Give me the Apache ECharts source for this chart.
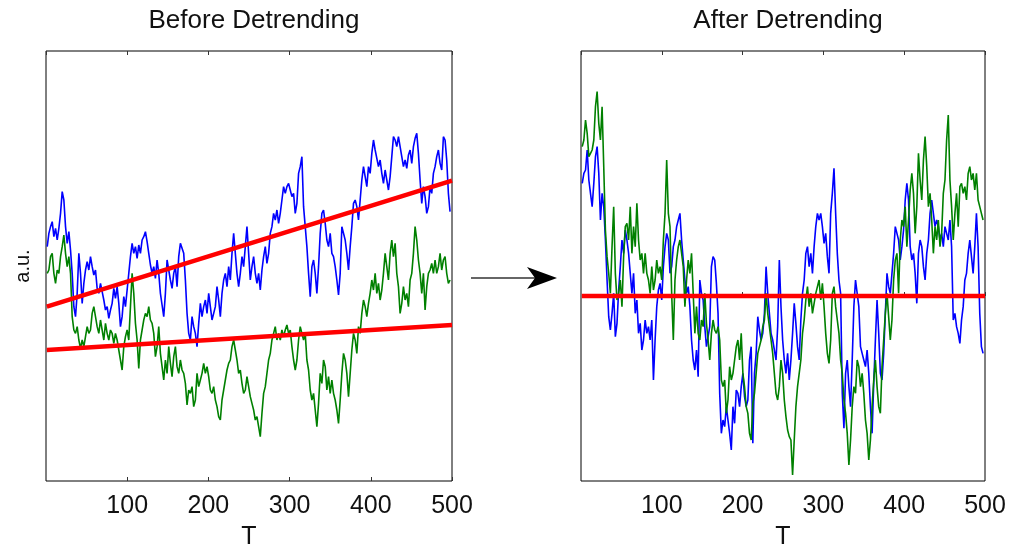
<!DOCTYPE html>
<html>
<head>
<meta charset="utf-8">
<script src="https://cdn.jsdelivr.net/npm/echarts@6/dist/echarts.min.js"></script>
<style>
  html, body { margin: 0; padding: 0; background: #ffffff; }
  #chart { width: 1021px; height: 546px; }
</style>
</head>
<body>
<div id="chart"></div>
<script>
// Time axis ticks (samples T = 1..500)
const tickLabels = [100, 200, 300, 400, 500];

// Sampling of the traces along T
const sampleStart = 1.5;
const sampleStep = 2.05;

// Raw signals (a.u.)
const blueRaw = [
  7.03, 7.43, 7.63, 7.78, 7.33, 7.58, 7.23, 7.58, 8.03, 8.68,
  8.43, 7.63, 7.13, 7.48, 6.93, 6.23, 5.23, 4.93, 5.63, 6.83,
  6.23, 5.33, 5.93, 6.33, 6.58, 6.33, 6.73, 6.43, 6.18, 6.33,
  5.78, 5.63, 5.93, 5.68, 5.43, 5.13, 5.23, 4.88, 5.13, 5.33,
  5.78, 5.48, 5.83, 5.33, 4.63, 4.93, 5.53, 5.23, 5.73, 6.23,
  6.73, 7.13, 6.83, 7.03, 6.68, 7.08, 6.83, 7.23, 7.33, 7.48,
  7.18, 6.83, 6.48, 6.23, 6.43, 6.08, 6.63, 6.23, 5.63, 5.28,
  4.93, 5.63, 6.63, 6.33, 6.03, 5.78, 6.23, 6.43, 5.83, 6.73,
  7.13, 7.13, 6.83, 6.03, 5.03, 4.43, 4.23,
  4.93, 4.63, 4.43, 4.03, 4.73, 5.33, 4.93, 5.23, 5.43, 5.03,
  5.63, 5.23, 4.83, 5.03, 5.23, 5.83, 5.43, 4.93, 5.63, 6.03,
  6.23, 5.83, 6.43, 6.03, 6.83, 7.43, 6.83, 6.23, 5.83, 6.23,
  6.73, 6.43, 7.03, 7.63, 6.83, 6.03, 6.43, 6.73, 6.23, 5.93,
  6.23, 5.73, 6.33, 6.73, 7.03, 6.53, 6.83, 7.43, 7.63, 8.03,
  7.83, 8.13, 7.73, 8.03, 8.43, 8.83, 8.63, 8.83, 8.93, 8.73,
  8.53, 8.63, 8.03, 8.33, 9.23, 9.43, 9.73, 8.23, 7.63, 7.03,
  6.23, 5.53, 6.43, 6.63, 6.23, 5.63, 6.43, 7.43, 8.03, 8.13,
  7.73, 7.23, 7.03, 7.43,
  6.83, 6.73, 6.43, 6.03, 5.58, 6.23, 7.63, 7.63, 7.23, 6.83,
  6.33, 7.03, 7.63, 8.33, 8.43, 8.23, 7.83, 8.43, 9.03, 9.43,
  9.13, 8.83, 9.43, 9.23, 9.83, 10.23, 9.93, 9.93, 9.43, 9.63,
  9.23, 8.93, 9.33, 9.03, 8.73, 9.13, 9.73, 10.33, 10.23, 10.03,
  10.33, 10.03, 9.73, 9.43, 9.63, 9.38, 9.78, 9.93, 9.53, 10.03,
  10.28, 10.43, 9.83, 9.03, 8.33, 8.83, 8.53, 8.03, 8.23, 8.83,
  8.63, 9.23, 9.43, 9.73, 9.93, 9.53, 9.33, 10.33, 10.23, 9.63,
  8.63, 8.08
];

const greenRaw = [
  6.23, 6.33, 6.73, 6.83, 6.23, 5.93, 6.33, 6.23, 6.73, 7.03,
  7.38, 6.83, 6.43, 6.73, 6.23, 4.93, 4.53, 4.43, 4.63, 4.23,
  3.98, 4.23, 4.03, 4.33, 4.63, 4.43, 4.53, 5.03, 5.23, 4.93,
  4.63, 4.43, 4.83, 4.53, 4.23, 4.73, 4.43, 4.23, 4.53, 4.43,
  4.13, 4.43, 4.23, 3.93, 3.63, 3.33, 4.03, 4.33, 4.53, 4.23,
  5.23, 6.23, 5.63, 4.73, 4.23, 3.38, 4.23, 4.53, 4.83, 5.03,
  4.93, 5.23, 4.83, 4.73, 4.43, 3.73, 4.03, 4.63, 3.83, 3.43,
  3.03, 3.63, 3.23, 4.03, 3.53, 3.13, 3.73, 4.03, 3.43, 3.23,
  3.63, 3.33, 3.23, 2.93, 2.28, 2.73, 2.63,
  2.83, 2.23, 2.43, 3.23, 2.83, 3.03, 3.23, 3.53, 3.23, 3.43,
  3.13, 2.73, 2.63, 2.83, 2.43, 2.23, 1.93, 1.83, 2.43, 2.73,
  3.03, 3.33, 3.53, 3.63, 4.03, 4.23, 3.93, 3.63, 3.23, 3.33,
  2.93, 2.63, 2.73, 3.13, 2.83, 2.53, 2.33, 2.13, 1.83, 1.93,
  1.63, 1.33, 2.03, 2.63, 2.83, 3.23, 3.63, 3.83, 4.23, 4.43,
  4.63, 4.23, 4.43, 4.23, 4.53, 4.33, 4.53, 4.68, 4.43, 4.53,
  4.03, 3.63, 3.33, 3.63, 4.23, 4.63, 4.43, 4.23, 4.43, 3.63,
  3.33, 2.73, 2.43, 2.63, 2.13, 1.63, 2.33, 3.23, 2.93, 3.63,
  3.43, 2.73, 3.13, 2.63,
  3.03, 2.63, 2.43, 2.13, 1.73, 2.43, 3.23, 3.83, 3.63, 3.23,
  2.53, 3.23, 3.93, 4.43, 4.23, 3.83, 4.63, 4.43, 5.03, 5.43,
  5.23, 4.93, 5.33, 5.63, 6.03, 5.73, 6.23, 5.63, 5.93, 5.43,
  5.73, 6.23, 6.83, 6.43, 6.03, 6.83, 7.23, 6.73, 7.13, 6.23,
  5.83, 5.03, 5.33, 5.83, 5.43, 5.63, 5.23, 6.03, 6.23, 6.83,
  7.63, 7.23, 6.63, 6.23, 5.63, 6.23, 5.13, 5.83, 6.23, 6.33,
  6.53, 6.23, 6.63, 6.23, 6.43, 6.83, 6.33, 6.63, 6.73, 6.23,
  5.93, 6.03
];

// Linear trends fitted to the raw signals: value at T = 1 and at T = 500
const trendT = [1, 500];
const blueTrend = [5.23, 9.01];
const greenTrend = [3.93, 4.68];

// Signals after removing their trends (a.u.)
const blueDetrended = [
  3.38, 3.68, 3.78, 4.38, 3.48, 3.08, 2.68, 3.38, 4.18, 4.48,
  3.68, 2.28, 3.08, 2.68, 1.68, 0.48, -0.62, -1.02, -0.52, 0.08,
  -1.22, -0.82, 0.18, 0.88, 1.68, 1.28, 1.98, 1.68, 1.28, 0.68,
  0.08, 0.68, -0.52, -0.12, -1.12, -0.82, -1.62, -1.32, -0.72, -1.12,
  -0.92, -1.32, -0.72, -2.52, -1.32, -0.32, 0.18, 0.38, -0.12, 0.88,
  1.48, 1.88, 1.68, 0.68, 0.88, 1.48, 1.68, 2.08, 2.28, 2.48,
  1.68, 1.08, 0.48, 0.08, 0.28, -0.32, -1.32, -1.92, -2.22, -1.62,
  -2.42, 0.48, 0.08, -0.12, -0.92, -1.52, -1.22, -0.92, 0.88, 1.18,
  1.08, 0.38, -0.52, -2.92, -4.12, -3.72, -3.92,
  -3.32, -3.72, -4.12, -4.62, -3.32, -3.82, -2.82, -2.92, -3.32, -2.72,
  -2.32, -3.02, -3.32, -3.12, -1.92, -1.52, -4.42, -2.32, -1.72, -0.62,
  -1.02, -1.32, -1.12, -0.52, 0.88, 0.08, -0.52, -1.12, -1.32, -1.62,
  -1.92, -0.92, 1.08, -0.32, -1.32, -1.92, -2.32, -1.72, -2.52, -1.92,
  -1.12, -0.22, -0.82, -1.52, -1.92, -0.72, 0.08, 0.48, 1.28, 1.48,
  0.88, 1.28, 0.68, 1.48, 2.08, 2.48, 2.28, 2.48, 2.08, 1.58,
  1.88, 1.18, 0.68, 2.48, 3.08, 3.83, 2.48, 1.28, 0.48, 0.08,
  -2.92, -3.97, -2.32, -1.92, -2.72, -3.32, -1.92, -0.32, 0.48, 0.48,
  -0.32, -1.52, -1.72, -1.92,
  -2.12, -1.62, -2.32, -3.32, -4.12, -2.62, -1.32, -0.12, -1.12, -2.32,
  -2.52, -1.72, -0.52, 0.68, 0.28, 0.08, 0.68, 1.28, 2.08, 1.88,
  1.68, 1.08, 1.48, 1.98, 2.88, 3.38, 2.88, 1.48, 1.08, 1.28,
  0.68, -0.22, 1.28, 1.68, 1.48, 0.88, 0.48, 1.28, 1.68, 2.48,
  2.88, 2.48, 2.08, 2.28, 2.08, 1.68, 1.88, 1.48, 2.08, 1.88,
  1.68, 2.28, 1.48, -0.72, -0.52, -0.92, -1.12, -1.42, -0.72, -0.32,
  0.48, 0.68, 1.28, 1.68, 1.18, 0.68, 1.48, 2.48, 1.48, -0.52,
  -1.52, -1.72
];

const greenDetrended = [
  4.48, 4.68, 5.28, 4.88, 4.18, 4.28, 4.38, 4.68, 5.68, 6.13,
  5.18, 4.68, 5.68, 3.88, 1.98, 1.18, 0.68, 0.08, 1.48, 2.68,
  0.68, -0.12, 0.08, 0.48, -0.32, 1.18, 2.08, 2.18, 1.68, 2.68,
  1.28, 2.08, 1.48, 2.78, 1.68, 1.08, 1.28, 0.68, 1.28, 0.68,
  0.48, 0.08, 0.88, 0.18, 0.48, 1.08, 0.68, 0.88, 0.48, 1.68,
  2.48, 4.08, 2.48, 2.08, 0.08, -1.32, 0.48, 1.08, 1.48, 1.68,
  1.28, 0.88, -0.32, 0.48, 1.08, 0.68, 1.28, 0.08, -1.12, -0.32,
  -1.12, -1.32, -0.72, -0.92, 0.08, -0.82, -1.32, -1.92, -1.12, -0.72,
  -1.02, -1.12, -0.92, -1.32, -2.52, -2.72, -2.52,
  -3.52, -3.12, -2.12, -2.52, -2.32, -1.92, -1.52, -1.32, -1.92, -1.12,
  -2.32, -2.72, -3.32, -3.52, -4.12, -4.32, -3.22, -2.92, -2.32, -1.72,
  -1.52, -1.32, -0.92, -0.72, 0.08, -0.52, -0.92, -1.32, -1.72, -2.32,
  -2.92, -3.12, -2.72, -1.92, -2.32, -3.12, -3.62, -4.02, -4.22, -4.32,
  -5.37, -4.32, -3.32, -2.72, -2.32, -1.92, -1.12, -0.72, -0.12, 0.28,
  -0.32, 0.08, -0.52, -0.52, 0.08, 0.28, 0.48, -0.12, 0.38, -0.32,
  -1.12, -1.72, -2.02, -1.32, 0.08, 0.28, -0.32, -0.72, -1.12, -1.92,
  -2.32, -3.12, -3.52, -4.12, -5.07, -4.32, -3.32, -2.72, -2.92, -1.92,
  -2.12, -2.72, -2.32, -2.92,
  -3.72, -4.12, -4.92, -4.32, -3.32, -2.52, -1.92, -2.72, -3.32, -3.52,
  -2.12, -1.32, -0.52, 0.08, -0.62, -1.32, -0.72, 0.48, 1.08, 1.28,
  0.08, 1.68, 2.28, 2.08, 2.68, 1.48, 2.28, 3.18, 3.68, 3.08,
  1.88, 2.68, 4.28, 3.48, 2.88, 4.08, 4.78, 3.88, 2.68, 3.08,
  2.28, 1.28, 2.08, 1.68, 2.28, 1.48, 1.88, 3.08, 3.48, 4.68,
  5.43, 3.48, 2.68, 1.68, 2.48, 3.08, 2.08, 3.28, 3.38, 3.08,
  3.28, 2.88, 3.68, 3.88, 3.48, 3.68, 3.18, 3.68, 2.88, 2.68,
  2.48, 2.28
];

// Common level of both detrended signals
const detrendedLevel = [0, 0];

const FONT = '"Liberation Sans", Arial, Helvetica, sans-serif';
const BLUE = '#0000ff';
const GREEN = '#008000';
const RED = '#ff0000';

function toPoints(values) {
  return values.map((v, i) => [sampleStart + i * sampleStep, v]);
}
function toLine(ts, vs) {
  return ts.map((t, i) => [t, vs[i]]);
}

function bottomAxis(gridIndex) {
  return {
    gridIndex, type: 'value', position: 'bottom',
    min: 0, max: 500, interval: 100,
    axisLine: { show: false },
    axisTick: { show: true, inside: true, length: 4, lineStyle: { color: '#333', width: 1 } },
    axisLabel: {
      show: true, margin: 13, fontSize: 25, color: '#111', fontFamily: FONT,
      showMinLabel: false, showMaxLabel: true,
      formatter: v => (tickLabels.indexOf(v) >= 0 ? String(v) : '')
    },
    splitLine: { show: false },
    name: 'T', nameLocation: 'middle', nameGap: 44,
    nameTextStyle: { fontSize: 25, color: '#111', fontFamily: FONT }
  };
}
function topAxis(gridIndex) {
  return {
    gridIndex, type: 'value', position: 'top',
    min: 0, max: 500, interval: 100,
    axisLine: { show: false },
    axisTick: { show: true, inside: true, length: 4, lineStyle: { color: '#333', width: 1 } },
    axisLabel: { show: false },
    splitLine: { show: false }
  };
}
function plainYAxis(gridIndex, min, max, name) {
  return {
    gridIndex, type: 'value', min, max,
    axisLine: { show: false }, axisTick: { show: false },
    axisLabel: { show: false }, splitLine: { show: false },
    name: name || '', nameLocation: 'middle', nameRotate: 90, nameGap: 13,
    nameTextStyle: { fontSize: 20, color: '#111', fontFamily: FONT }
  };
}
function trace(xi, yi, values, color) {
  return {
    type: 'line', xAxisIndex: xi, yAxisIndex: yi,
    data: toPoints(values), showSymbol: false, symbol: 'none',
    lineStyle: { color, width: 1.6 }, clip: true, silent: true
  };
}
function trendLine(xi, yi, values) {
  return {
    type: 'line', xAxisIndex: xi, yAxisIndex: yi,
    data: toLine(trendT, values), showSymbol: false, symbol: 'none',
    lineStyle: { color: RED, width: 4.5 }, clip: true, silent: true, z: 5
  };
}

const gridBase = {
  top: 51, height: 430, show: true, borderColor: '#000', borderWidth: 1,
  backgroundColor: '#fff', containLabel: false, outerBoundsMode: 'none'
};

const chart = echarts.init(document.getElementById('chart'), null, { renderer: 'canvas' });
chart.setOption({
  animation: false,
  backgroundColor: '#ffffff',
  textStyle: { fontFamily: FONT },
  title: [
    { text: 'Before Detrending', left: 249, top: 3, textAlign: 'center',
      textStyle: { fontSize: 26, fontWeight: 'normal', color: '#111', fontFamily: FONT } },
    { text: 'After Detrending', left: 783, top: 3, textAlign: 'center',
      textStyle: { fontSize: 26, fontWeight: 'normal', color: '#111', fontFamily: FONT } }
  ],
  grid: [
    Object.assign({ left: 46, width: 406 }, gridBase),
    Object.assign({ left: 581, width: 404 }, gridBase)
  ],
  xAxis: [bottomAxis(0), bottomAxis(1), topAxis(0), topAxis(1)],
  yAxis: [plainYAxis(0, 0, 12.9, 'a.u.'), plainYAxis(1, -5.55, 7.35)],
  series: [
    trace(0, 0, blueRaw, BLUE),
    trace(0, 0, greenRaw, GREEN),
    trendLine(0, 0, blueTrend),
    trendLine(0, 0, greenTrend),
    trace(1, 1, blueDetrended, BLUE),
    trace(1, 1, greenDetrended, GREEN),
    trendLine(1, 1, detrendedLevel)
  ],
  graphic: [
    { type: 'line', shape: { x1: 471, y1: 278, x2: 540, y2: 278 },
      style: { stroke: '#666', lineWidth: 2 } },
    { type: 'polygon', shape: { points: [[557, 278], [527, 267], [535, 278], [527, 289]] },
      style: { fill: '#000' } }
  ]
});
</script>
</body>
</html>
